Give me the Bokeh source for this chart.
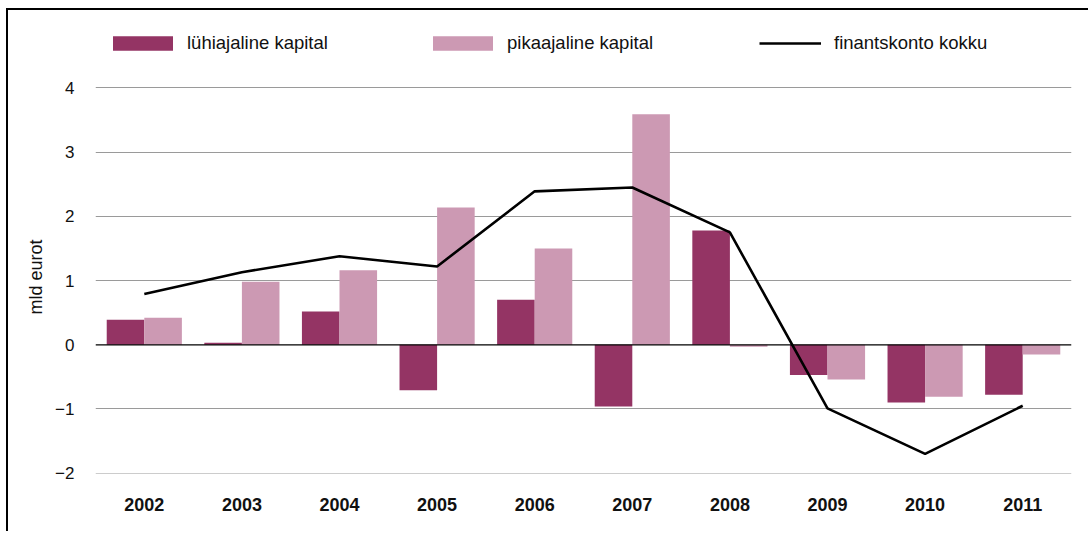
from bokeh.plotting import figure
from bokeh.models import Range1d, FactorRange, FixedTicker, Span, Legend, LegendItem, ColumnDataSource
from bokeh.transform import dodge
from bokeh.embed import file_html
from bokeh.resources import INLINE

years = ["2002", "2003", "2004", "2005", "2006", "2007", "2008", "2009", "2010", "2011"]
luhi = [0.39, 0.03, 0.52, -0.71, 0.70, -0.96, 1.78, -0.47, -0.90, -0.78]
pika = [0.42, 0.98, 1.16, 2.14, 1.50, 3.59, -0.03, -0.54, -0.81, -0.15]
kokku = [0.79, 1.13, 1.38, 1.22, 2.39, 2.45, 1.75, -0.99, -1.70, -0.95]
y_ticks = [-2, -1, 0, 1, 2, 3, 4]
y_tick_labels = ["\u22122", "\u22121", "0", "1", "2", "3", "4"]
legend_labels = ["lühiajaline kapital", "pikaajaline kapital", "finantskonto kokku"]
y_title = "mld eurot"

src = ColumnDataSource(dict(year=years, luhi=luhi, pika=pika, kokku=kokku))

DARK = "#943464"
LIGHT = "#cc99b3"
FONT = "Liberation Sans"
TXT = "#111111"

xr = FactorRange(*years, range_padding=0)
p = figure(width=1082, height=523, output_backend="svg", toolbar_location=None,
           x_range=xr, y_range=Range1d(-2.005, 5.051),
           min_border_left=87, min_border_right=19, min_border_top=10, min_border_bottom=60)
p.styles = {"margin-left": "6px", "margin-top": "8px",
            "border-left": "2px solid black", "border-top": "2px solid black"}
p.outline_line_color = None

BW = 0.385
r1 = p.vbar(x=dodge("year", -BW / 2, range=xr), top="luhi", width=BW, source=src,
            fill_color=DARK, line_color=None)
r2 = p.vbar(x=dodge("year", BW / 2, range=xr), top="pika", width=BW, source=src,
            fill_color=LIGHT, line_color=None)
p.add_layout(Span(location=0, dimension="width", line_color="black", line_width=1.2))
r3 = p.line(x="year", y="kokku", source=src, line_color="black", line_width=2.6)

# x axis
p.xaxis.axis_line_color = None
p.xaxis.major_tick_line_color = None
p.xaxis.major_tick_out = 0
p.xaxis.minor_tick_line_color = None
p.xaxis.major_label_text_font = FONT
p.xaxis.major_label_text_font_style = "bold"
p.xaxis.major_label_text_font_size = "18px"
p.xaxis.major_label_text_color = TXT
p.xaxis.major_label_standoff = 24

# y axis
p.yaxis.ticker = FixedTicker(ticks=y_ticks)
p.yaxis.major_label_overrides = {t: l for t, l in zip(y_ticks, y_tick_labels)}
p.yaxis.axis_line_color = None
p.yaxis.major_tick_line_color = None
p.yaxis.major_tick_out = 0
p.yaxis.minor_tick_line_color = None
p.yaxis.major_label_text_font = FONT
p.yaxis.major_label_text_font_size = "17px"
p.yaxis.major_label_text_color = TXT
p.yaxis.major_label_standoff = 21
p.yaxis.axis_label = y_title + "\u00a0" * 12
p.yaxis.axis_label_text_font = FONT
p.yaxis.axis_label_text_font_style = "normal"
p.yaxis.axis_label_text_font_size = "18px"
p.yaxis.axis_label_text_color = TXT
p.yaxis.axis_label_standoff = 6

p.xgrid.grid_line_color = None
p.ygrid.ticker = FixedTicker(ticks=[-2, -1, 1, 2, 3, 4])
p.ygrid.grid_line_color = "#9a9a9a"
p.ygrid.grid_line_width = 1


def make_legend(label, renderer, loc, gw, gh, standoff):
    lg = Legend(items=[LegendItem(label=label, renderers=[renderer])],
                orientation="horizontal", location=loc)
    lg.label_text_font = FONT
    lg.label_text_font_size = "18.5px"
    lg.label_text_color = TXT
    lg.glyph_width = gw
    lg.glyph_height = gh
    lg.label_height = 22
    lg.label_standoff = standoff
    lg.padding = 0
    lg.margin = 0
    lg.border_line_color = None
    lg.background_fill_alpha = 0
    p.add_layout(lg)


make_legend(legend_labels[0], r1, (10, 419), 75, 18, 7)
make_legend(legend_labels[1], r2, (330, 419), 75, 18, 7)
make_legend(legend_labels[2], r3, (664, 419), 62, 18, 13)

open("out.html", "w").write(file_html(p, INLINE))
